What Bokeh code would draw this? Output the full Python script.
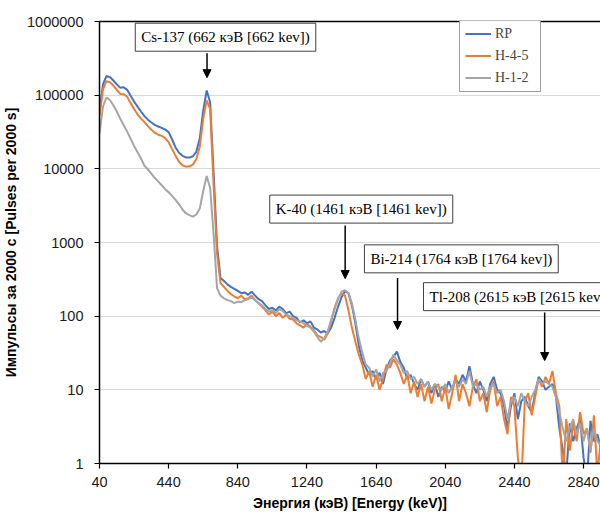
from bokeh.plotting import figure
from bokeh.models import (Range1d, LinearAxis, FixedTicker, NumeralTickFormatter,
                          Legend, LegendItem, Label, Arrow, NormalHead)
from bokeh.embed import file_html
from bokeh.resources import INLINE

# ---------------- data ----------------
energy_kev = [
    40, 60, 80, 100, 120, 140, 160, 180, 200, 220,
    240, 260, 280, 300, 320, 340, 360, 380, 400, 420,
    440, 460, 480, 500, 520, 540, 560, 580, 600, 620,
    640, 660, 680, 700, 720, 740, 760, 780, 800, 820,
    840, 860, 880, 900, 920, 940, 960, 980, 1000, 1020,
    1040, 1060, 1080, 1100, 1120, 1140, 1160, 1180, 1200, 1220,
    1240, 1260, 1280, 1300, 1320, 1340, 1360, 1380, 1400, 1420,
    1440, 1460, 1480, 1500, 1520, 1540, 1560, 1580, 1600, 1620,
    1640, 1660, 1680, 1700, 1720, 1740, 1760, 1780, 1800, 1820,
    1840, 1860, 1880, 1900, 1920, 1940, 1960, 1980, 2000, 2020,
    2040, 2060, 2080, 2100, 2120, 2140, 2160, 2180, 2200, 2220,
    2240, 2260, 2280, 2300, 2320, 2340, 2360, 2380, 2400, 2420,
    2440, 2460, 2480, 2500, 2520, 2540, 2560, 2580, 2600, 2620,
    2640, 2660, 2680, 2700, 2720, 2740, 2760, 2780, 2800, 2820,
    2840, 2860, 2880, 2900, 2920, 2940,
]

rp = [
    60000, 140000, 182000, 176000, 158000, 140000, 126000, 128000, 118000, 98000,
    82000, 70000, 60000, 52000, 46500, 42500, 39500, 37500, 36000, 34000,
    31500, 25000, 19500, 16500, 15000, 14300, 14200, 14800, 17000, 26000,
    62000, 116000, 80000, 9000, 900, 330, 300, 270, 250, 235,
    220, 205, 210, 195, 215, 190, 170, 160, 140, 125,
    130, 120, 135, 125, 110, 115, 100, 95, 82, 88,
    80, 85, 70, 66, 60, 63, 58, 70, 95, 135,
    180, 220, 205, 140, 80, 40, 25, 20, 16, 18,
    14, 17, 12, 19, 25, 28, 33, 24, 20, 14,
    16, 12, 10, 14, 11, 13, 9, 12, 8, 11,
    9.5, 13, 10, 14, 12, 16, 13, 21, 12, 9,
    13, 10, 7, 12, 15, 10, 9, 6, 3, 6,
    9, 4, 7, 8, 6, 5, 9, 15, 13, 10,
    11, 12, 8, 3, 1.5, 0.7, 3.5, 2, 3, 4,
    1.2, 0.6, 3.8, 2, 2.5, 1.6,
]

h45 = [
    52000, 120000, 155000, 150000, 135000, 118000, 104000, 103000, 95000, 78000,
    65000, 55000, 48000, 43000, 38000, 34000, 31000, 29000, 28000, 26000,
    23000, 18500, 15000, 12500, 11200, 10700, 10800, 11400, 13500, 20000,
    48000, 85000, 65000, 6000, 700, 280, 250, 220, 200, 185,
    175, 190, 170, 175, 190, 165, 150, 135, 120, 105,
    115, 100, 110, 95, 105, 92, 90, 80, 75, 70,
    78, 72, 65, 55, 52, 48, 58, 85, 130, 175,
    205, 190, 120, 70, 45, 30, 22, 14, 18, 11,
    16, 10, 14, 22, 20, 26, 22, 17, 12, 16,
    9, 13, 8, 12, 7, 11, 6.5, 10, 12, 7,
    11, 5.5, 9, 16, 7, 12, 9, 6, 11, 14,
    7, 9, 5, 10, 13, 6, 8, 4, 2.5, 8,
    6, 1.2, 0.5, 7, 9, 4.5, 8, 14, 11, 15,
    12, 18, 9, 6, 0.6, 4, 1.5, 3.5, 2, 5,
    2.5, 3, 1.4, 4.5, 0.7, 2.2,
]

h12 = [
    30000, 70000, 93000, 86000, 73000, 60000, 48000, 39000, 32000, 25500,
    20500, 16800, 13800, 11000, 9800, 8600, 7500, 6700, 6000, 5300,
    4800, 4300, 3800, 3300, 2800, 2500, 2350, 2250, 2400, 2900,
    5000, 8000, 5500, 1300, 240, 190, 175, 165, 160, 150,
    158, 155, 165, 170, 180, 165, 150, 140, 125, 115,
    120, 110, 125, 118, 105, 100, 95, 88, 85, 80,
    74, 70, 62, 52, 45, 50, 62, 90, 125, 170,
    215, 225, 205, 150, 90, 50, 32, 22, 20, 15,
    19, 13, 17, 18, 23, 30, 25, 22, 17, 18,
    14, 15, 12, 14, 11, 13, 10, 12, 11, 10,
    12, 9, 11, 13, 11, 14, 12, 18, 11, 12,
    10, 11, 8, 11, 12, 9, 10, 7, 4, 7,
    8, 6, 9, 7, 6, 8, 10, 14, 12, 13,
    12, 11, 8, 5, 3, 2, 3, 4, 2.5, 3.5,
    2, 3, 1.5, 3, 2, 1.8,
]

series_names = ["RP", "H-4-5", "H-1-2"]
x_ticks = [40, 440, 840, 1240, 1640, 2040, 2440, 2840]
y_ticks = [1, 10, 100, 1000, 10000, 100000, 1000000]

peak_labels = ["Cs-137 (662 кэВ [662 kev])", "K-40 (1461 кэВ [1461 kev])",
               "Bi-214 (1764 кэВ [1764 kev])", "Tl-208 (2615 кэВ [2615 kev])"]
peak_energy = [662, 1461, 1764, 2615]

# ---------------- layout / style (positions in data units) ----------------
colors = ["#4472C4", "#ED7D31", "#A5A5A5"]
label_pos = [(769, 612000, "center"), (1554, 2840, "center"),
             (2133, 600, "center"), (1914, 184, "left")]
arrow_y = [(370000, 172700), (1700, 324), (330, 66), (112, 25)]

SANS = "Liberation Sans"
SERIF = "Liberation Serif"

p = figure(width=600, height=513, output_backend="svg", toolbar_location=None,
           y_axis_type="log", x_range=Range1d(40, 2938), y_range=Range1d(1, 1e6),
           min_border_left=99, min_border_right=0, min_border_top=21,
           min_border_bottom=50, background_fill_color="white",
           outline_line_color=None)

# axes
p.xaxis.ticker = FixedTicker(ticks=x_ticks)
p.yaxis.ticker = FixedTicker(ticks=y_ticks)
p.yaxis.formatter = NumeralTickFormatter(format="0")
for ax in (p.xaxis, p.yaxis):
    ax.axis_line_color = "black"
    ax.axis_line_width = 1.5
    ax.major_tick_line_color = "black"
    ax.major_tick_line_width = 1.2
    ax.major_tick_out = 5
    ax.major_tick_in = 0
    ax.minor_tick_line_color = None
    ax.major_label_text_font = SANS
    ax.major_label_text_font_size = "14.5px"
    ax.major_label_text_color = "#1a1a1a"
    ax.axis_label_text_font = SANS
    ax.axis_label_text_font_style = "bold"
    ax.axis_label_text_font_size = "14px"
    ax.axis_label_text_color = "black"
p.xaxis.major_label_standoff = 8
p.xaxis.axis_label_standoff = 5
p.yaxis.major_label_standoff = 11
p.yaxis.axis_label_standoff = 5
p.xaxis.axis_label = "Энергия (кэВ) [Energy (keV)]"
p.yaxis.axis_label = "Импульсы за 2000 с [Pulses per 2000 s]"

top_axis = LinearAxis(ticker=FixedTicker(ticks=[]), axis_line_color="black",
                      axis_line_width=1.5, major_tick_out=0, major_tick_in=0,
                      minor_tick_out=0, minor_tick_in=0,
                      major_label_text_font_size="0px")
p.add_layout(top_axis, "above")

p.xgrid.visible = False
p.ygrid.grid_line_color = "#D9D9D9"
p.ygrid.grid_line_width = 1.2
p.ygrid.minor_grid_line_color = None

renderers = []
for ys, c in zip([rp, h45, h12], colors):
    r = p.line(energy_kev, ys, line_color=c, line_width=2)
    renderers.append(r)

legend = Legend(items=[LegendItem(label=n, renderers=[r]) for n, r in zip(series_names, renderers)],
                location=(360, 371), label_text_font=SERIF, label_text_font_size="14px",
                glyph_width=26, glyph_height=17, spacing=5, padding=5, label_standoff=4,
                label_width=40, margin=0, border_line_color="#404040", border_line_width=1,
                background_fill_color="white", background_fill_alpha=1.0)
p.add_layout(legend, "center")

for txt, (lx, ly, al), e, (ys0, ys1) in zip(peak_labels, label_pos, peak_energy, arrow_y):
    p.add_layout(Label(x=lx, y=ly, text=txt, text_font=SERIF, text_font_size="15px",
                       text_align=al, text_baseline="middle", text_color="black",
                       border_line_color="#404040", border_line_width=1,
                       background_fill_color="white", padding=6))
    p.add_layout(Arrow(end=NormalHead(size=8, fill_color="black", line_color="black"),
                       x_start=e, y_start=ys0, x_end=e, y_end=ys1,
                       line_color="black", line_width=1.5))

open("out.html", "w").write(file_html(p, INLINE))
